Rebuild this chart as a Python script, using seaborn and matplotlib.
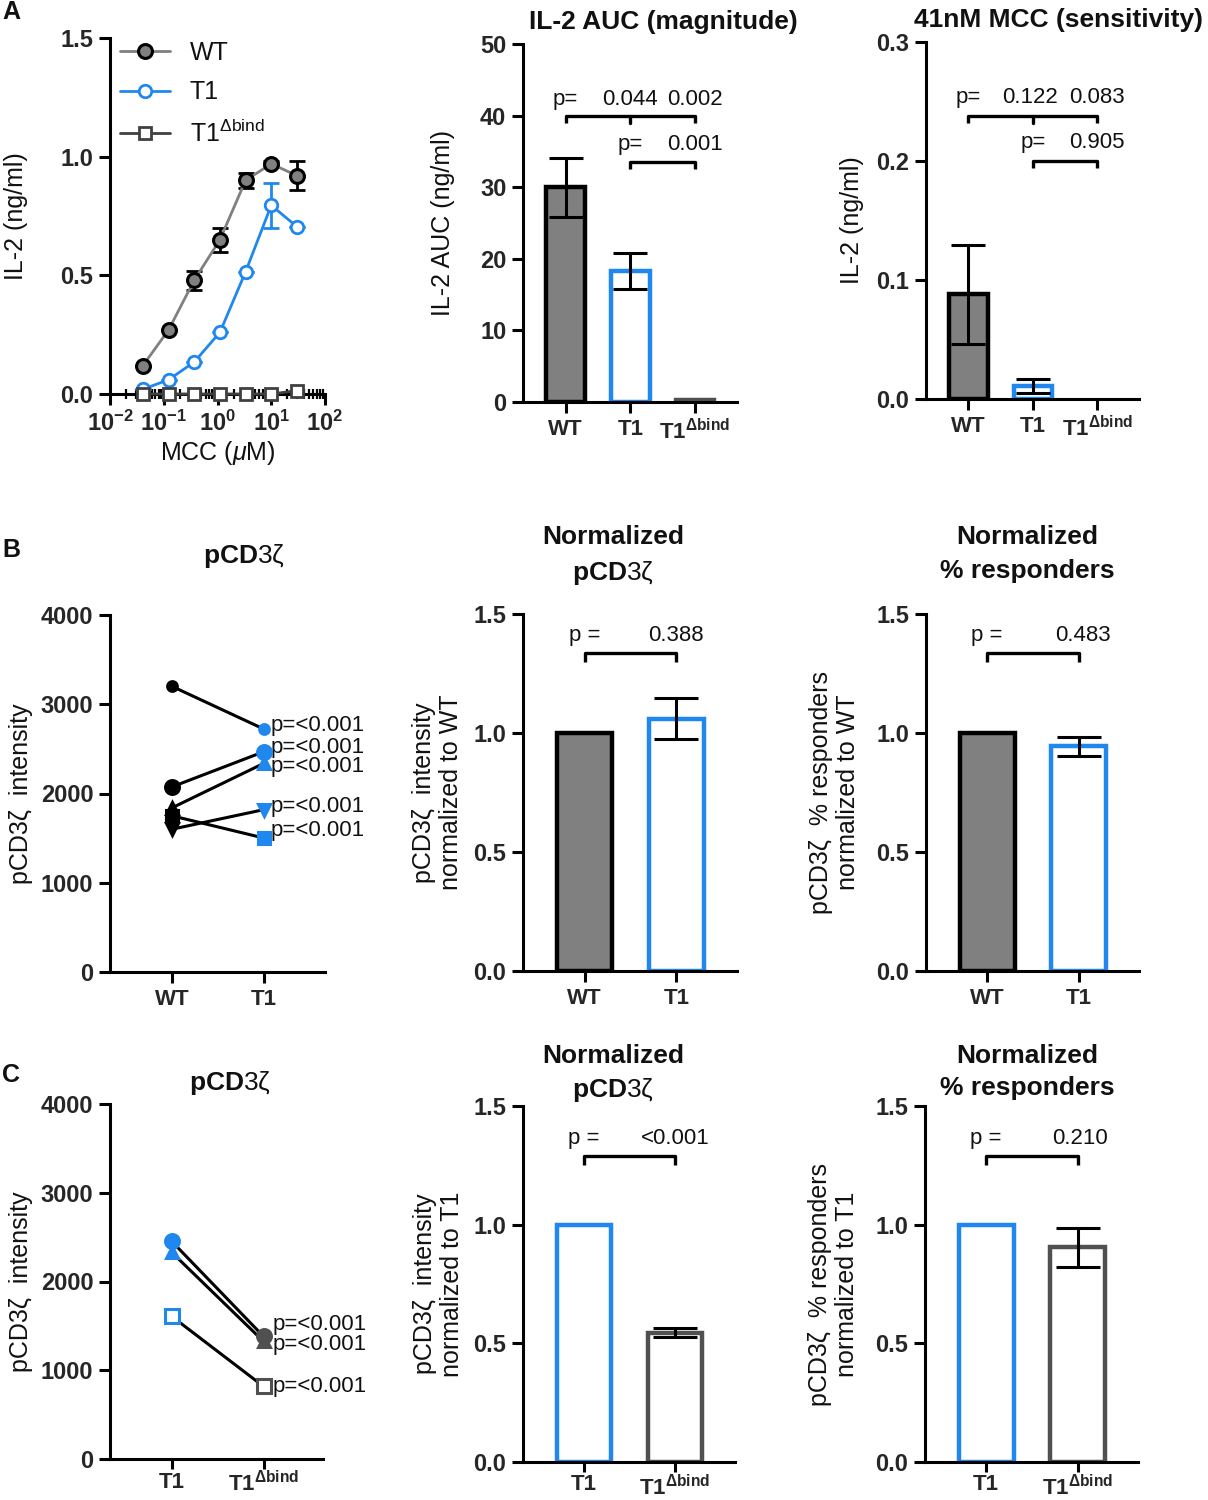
import matplotlib
matplotlib.use("Agg")
import matplotlib.pyplot as plt
import matplotlib.ticker as mticker
import numpy as np
import seaborn as sns

W, H = 1208, 1500

BLUE = "#1f87ee"
GREY = "#808080"
DARK = "#505050"

# ---------------- data ----------------
# A: IL-2 dose response
mcc_um = [0.041, 0.123, 0.37, 1.11, 3.33, 10, 30]
wt_il2 = [0.12, 0.27, 0.48, 0.65, 0.90, 0.97, 0.92]
wt_il2_err = [0.0, 0.0, 0.04, 0.05, 0.03, 0.01, 0.06]
t1_il2 = [0.02, 0.06, 0.135, 0.26, 0.515, 0.795, 0.705]
t1_il2_err = [0.0, 0.0, 0.0, 0.0, 0.0, 0.095, 0.0]
t1d_il2 = [0.0, 0.0, 0.0, 0.0, 0.0, 0.0, 0.014]

auc = [30.0, 18.3, 0.3]
auc_err = [4.1, 2.55, 0.0]
auc_p = ["0.044", "0.002", "0.001"]
sens = [0.088, 0.011, 0.0]
sens_err = [0.0415, 0.006, 0.0]
sens_p = ["0.122", "0.083", "0.905"]

# B: WT vs T1
b_wt = [3200, 2075, 1840, 1600, 1750]
b_t1 = [2720, 2470, 2340, 1820, 1500]
b_p = ["p=<0.001"] * 5
b_norm = [1.0, 1.06]
b_norm_err = [0.0, 0.087]
b_norm_p = "0.388"
b_resp = [1.0, 0.945]
b_resp_err = [0.0, 0.04]
b_resp_p = "0.483"

# C: T1 vs T1dbind
c_t1 = [2452, 2328, 1607]
c_t1d = [1381, 1325, 818]
c_p = ["p=<0.001"] * 3
c_norm = [1.0, 0.545]
c_norm_err = [0.0, 0.02]
c_norm_p = "<0.001"
c_resp = [1.0, 0.905]
c_resp_err = [0.0, 0.083]
c_resp_p = "0.210"

# ---------------- style ----------------
sns.set_theme(style="ticks")
plt.rcParams["font.family"] = ["Liberation Sans", "DejaVu Sans"]
plt.rcParams["mathtext.fontset"] = "custom"
plt.rcParams["mathtext.rm"] = "Liberation Sans"
plt.rcParams["mathtext.bf"] = "Liberation Sans:bold"
plt.rcParams["mathtext.it"] = "Liberation Sans:italic"
plt.rcParams["mathtext.sf"] = "Liberation Sans"
plt.rcParams["text.color"] = "#111111"
plt.rcParams["axes.labelcolor"] = "#111111"

LBL_D = r"T1$^{\mathbf{\Delta bind}}$"
PCD = r"$\mathbf{pCD}$3ζ"

fig = plt.figure(figsize=(W / 100, H / 100), dpi=100)


def px_rect(l, t, r, b):
    return [l / W, 1 - b / H, (r - l) / W, (b - t) / H]


def ftext(x, y, s, **kw):
    fig.text(x / W, 1 - y / H, s, ha="center", va="center", **kw)


def style(ax, ticks, labels, ylim, ylabel, lx):
    sns.despine(ax=ax)
    for s in ["left", "bottom"]:
        ax.spines[s].set_linewidth(2.2)
        ax.spines[s].set_color("black")
    ax.set_ylim(*ylim)
    ax.set_yticks(ticks, labels, fontsize=17, fontweight="bold")
    ax.tick_params(axis="both", which="major", width=2.2, length=8, color="black", pad=4)
    ax.set_ylabel(ylabel, fontsize=18, linespacing=1.15, multialignment="center")
    ax.yaxis.set_label_coords(lx, 0.5)


def bars(ax, vals, errs, faces, edges, cap=10):
    sns.barplot(x=list(range(len(vals))), y=vals, ax=ax, width=0.6, errorbar=None,
                color="white", linewidth=3.2, edgecolor="black", native_scale=True)
    for p, fc, ec, v in zip(ax.patches, faces, edges, vals):
        p.set_facecolor(fc)
        p.set_edgecolor(ec)
        if v == 0:
            p.set_linewidth(0)
    idx = [i for i, e in enumerate(errs) if e > 0]
    ax.errorbar(idx, [vals[i] for i in idx], yerr=[errs[i] for i in idx], fmt="none",
                ecolor="black", elinewidth=2.2, capsize=cap, capthick=2.2, zorder=5)


def bracket(ax, x0, x1, y, h, mid=None):
    ax.plot([x0, x0, x1, x1], [y - h, y, y, y - h], color="black", lw=2.4,
            solid_capstyle="butt", clip_on=False)
    if mid is not None:
        ax.plot([mid, mid], [y, y - h], color="black", lw=2.4, clip_on=False)


def ptext(ax, x, y, s):
    ax.text(x, y, s, ha="center", va="center", fontsize=16)


# ---------------- A1: dose response ----------------
ax = fig.add_axes(px_rect(110, 38, 325, 394))
ax.set_xscale("log")
ax.errorbar(mcc_um, wt_il2, yerr=wt_il2_err, fmt="none", ecolor="black",
            elinewidth=2, capsize=5.5, capthick=2, zorder=1)
ax.errorbar(mcc_um, t1_il2, yerr=t1_il2_err, fmt="none", ecolor=BLUE,
            elinewidth=2, capsize=5.5, capthick=2, zorder=1)
sns.lineplot(x=mcc_um, y=wt_il2, ax=ax, color=GREY, lw=2, marker="o", markersize=10,
             markerfacecolor=GREY, markeredgecolor="black", markeredgewidth=2.2,
             label="WT", clip_on=False, zorder=3)
sns.lineplot(x=mcc_um, y=t1_il2, ax=ax, color=BLUE, lw=2, marker="o", markersize=9,
             markerfacecolor="white", markeredgecolor=BLUE, markeredgewidth=2,
             label="T1", clip_on=False, zorder=3)
sns.lineplot(x=mcc_um, y=t1d_il2, ax=ax, color="#404040", lw=2, marker="s", markersize=8,
             markerfacecolor="white", markeredgecolor="#404040", markeredgewidth=2,
             label=r"T1$^{\Delta\mathrm{bind}}$", clip_on=False, zorder=3)
ax.set_xlim(1e-2, 1e2)
ax.set_xticks([1e-2, 1e-1, 1e0, 1e1, 1e2],
              [r"$\mathbf{10^{-2}}$", r"$\mathbf{10^{-1}}$", r"$\mathbf{10^{0}}$",
               r"$\mathbf{10^{1}}$", r"$\mathbf{10^{2}}$"], fontsize=17)
ax.xaxis.set_minor_locator(mticker.LogLocator(base=10, subs=np.arange(2, 10)))
ax.xaxis.set_minor_formatter(mticker.NullFormatter())
style(ax, [0, 0.5, 1.0, 1.5], ["0.0", "0.5", "1.0", "1.5"], (0, 1.5), "IL-2 (ng/ml)", -0.38)
ax.tick_params(axis="x", which="minor", direction="inout", length=7, width=1.6, color="black")
ax.set_xlabel(r"MCC ($\mu$M)", fontsize=18, labelpad=2)
ax.legend(loc="upper left", bbox_to_anchor=(0.0, 1.02), frameon=False, fontsize=18,
          handlelength=2.0, handletextpad=0.8, labelspacing=0.62, borderaxespad=0)

# ---------------- A2: AUC ----------------
ax = fig.add_axes(px_rect(523, 44, 737, 402))
bars(ax, auc, auc_err, [GREY, "white", DARK], ["black", BLUE, DARK], cap=12)
ax.set_xlim(-0.66, 2.65)
style(ax, [0, 10, 20, 30, 40, 50], ["0", "10", "20", "30", "40", "50"], (0, 50),
      "IL-2 AUC (ng/ml)", -0.32)
ax.set_xticks([0, 1, 2], ["WT", "T1", LBL_D], fontsize=16, fontweight="bold")
bracket(ax, 0, 2, 40, 1.0, mid=1)
ptext(ax, 0, 42.3, "p=")
ptext(ax, 1, 42.3, auc_p[0])
ptext(ax, 2, 42.3, auc_p[1])
bracket(ax, 1, 2, 33.5, 1.0)
ptext(ax, 1, 36.0, "p=")
ptext(ax, 2, 36.0, auc_p[2])
ftext(663, 22, "IL-2 AUC (magnitude)", fontsize=19, fontweight="bold")

# ---------------- A3: sensitivity ----------------
ax = fig.add_axes(px_rect(926, 42, 1139, 399))
bars(ax, sens, sens_err, [GREY, "white", DARK], ["black", BLUE, DARK], cap=12)
ax.set_xlim(-0.66, 2.65)
style(ax, [0, 0.1, 0.2, 0.3], ["0.0", "0.1", "0.2", "0.3"], (0, 0.3),
      "IL-2 (ng/ml)", -0.29)
ax.set_xticks([0, 1, 2], ["WT", "T1", LBL_D], fontsize=16, fontweight="bold")
bracket(ax, 0, 2, 0.238, 0.006, mid=1)
ptext(ax, 0, 0.253, "p=")
ptext(ax, 0.95, 0.253, sens_p[0])
ptext(ax, 2, 0.253, sens_p[1])
bracket(ax, 1, 2, 0.200, 0.006)
ptext(ax, 1, 0.2155, "p=")
ptext(ax, 2, 0.2155, sens_p[2])
ftext(1058, 20, "41nM MCC (sensitivity)", fontsize=19, fontweight="bold")


# ---------------- paired plots ----------------
def paired(ax, left, right, markers, sizes, lcol, rcol, filled, pvals, dy, tx):
    for l, r, m, ms, f, p, d in zip(left, right, markers, sizes, filled, pvals, dy):
        sns.lineplot(x=[0, 1], y=[l, r], ax=ax, color="black", lw=2.2, legend=False)
        ax.plot(0, l, marker=m, ms=ms, color=lcol, mfc=lcol if f else "white",
                mew=2.2, zorder=4, clip_on=False)
        ax.plot(1, r, marker=m, ms=ms, color=rcol, mfc=rcol if f else "white",
                mew=2.2, zorder=4, clip_on=False)
        ax.text(tx, r + d, p, ha="left", va="center", fontsize=16)


ax = fig.add_axes(px_rect(110, 615, 325, 972))
paired(ax, b_wt, b_t1, ["o", "o", "^", "v", "s"], [7, 10, 9, 9, 9], "black", BLUE,
       [True] * 5, b_p, [40, 45, -35, 30, 90], 1.07)
ax.set_xlim(-0.674, 1.66)
style(ax, [0, 1000, 2000, 3000, 4000], ["0", "1000", "2000", "3000", "4000"], (0, 4000),
      "pCD3ζ  intensity", -0.36)
ax.set_xticks([0, 1], ["WT", "T1"], fontsize=16, fontweight="bold")
ftext(244, 556, PCD, fontsize=19)

ax = fig.add_axes(px_rect(110, 1104, 323, 1459))
paired(ax, c_t1, c_t1d, ["o", "^", "s"], [10, 9, 10], BLUE, DARK,
       [True, True, False], c_p, [130, -40, 0], 1.1)
ax.set_xlim(-0.673, 1.648)
style(ax, [0, 1000, 2000, 3000, 4000], ["0", "1000", "2000", "3000", "4000"], (0, 4000),
      "pCD3ζ  intensity", -0.36)
ax.set_xticks([0, 1], ["T1", LBL_D], fontsize=16, fontweight="bold")
ax.tick_params(axis="x", length=7, pad=2)
ftext(230, 1083, PCD, fontsize=19)

# ---------------- normalized bars ----------------
norm_ticks = [0, 0.5, 1.0, 1.5]
norm_labels = ["0.0", "0.5", "1.0", "1.5"]


def norm_panel(rect, vals, errs, faces, edges, xt, ylabel, lx, pval, by, px):
    ax = fig.add_axes(px_rect(*rect))
    bars(ax, vals, errs, faces, edges, cap=16)
    ax.set_xlim(-0.67, 1.66)
    style(ax, norm_ticks, norm_labels, (0, 1.5), ylabel, lx)
    ax.set_xticks([0, 1], xt, fontsize=16, fontweight="bold")
    bracket(ax, 0, 1, by, 0.038)
    ptext(ax, 0, by + 0.073, "p =")
    ptext(ax, px, by + 0.073, pval)
    return ax


norm_panel((523, 614, 737, 971), b_norm, b_norm_err, [GREY, "white"], ["black", BLUE],
           ["WT", "T1"], "pCD3ζ  intensity\nnormalized to WT", -0.28, b_norm_p, 1.337, 1.0)
ftext(613, 537, "Normalized", fontsize=19, fontweight="bold")
ftext(613, 573, PCD, fontsize=19)

norm_panel((926, 614, 1139, 971), b_resp, b_resp_err, [GREY, "white"], ["black", BLUE],
           ["WT", "T1"], "pCD3ζ  % responders\nnormalized to WT", -0.31, b_resp_p, 1.337, 1.05)
ftext(1027, 537, "Normalized", fontsize=19, fontweight="bold")
ftext(1027, 571, "% responders", fontsize=19, fontweight="bold")

ax = norm_panel((523, 1106, 735, 1462), c_norm, c_norm_err, ["white", "white"], [BLUE, DARK],
                ["T1", LBL_D], "pCD3ζ  intensity\nnormalized to T1", -0.28, c_norm_p, 1.29, 1.0)
ax.tick_params(axis="x", length=7, pad=2)
ftext(613, 1056, "Normalized", fontsize=19, fontweight="bold")
ftext(613, 1090, PCD, fontsize=19)

ax = norm_panel((925, 1106, 1138, 1462), c_resp, c_resp_err, ["white", "white"], [BLUE, DARK],
                ["T1", LBL_D], "pCD3ζ  % responders\nnormalized to T1", -0.31, c_resp_p, 1.29, 1.03)
ax.tick_params(axis="x", length=7, pad=2)
ftext(1027, 1056, "Normalized", fontsize=19, fontweight="bold")
ftext(1027, 1088, "% responders", fontsize=19, fontweight="bold")

# panel letters
for letter, y in [("A", 12), ("B", 550), ("C", 1075)]:
    fig.text(2 / W, 1 - y / H, letter, ha="left", va="center", fontsize=18, fontweight="bold")

fig.savefig("out.png", dpi=100)
